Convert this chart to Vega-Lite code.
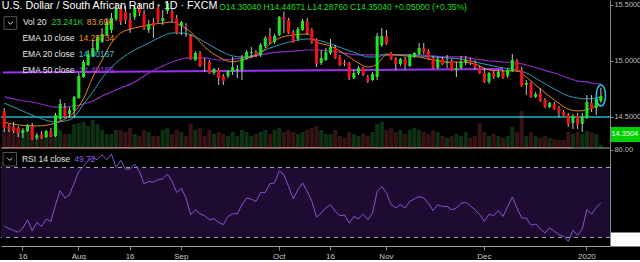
{
"$schema": "https://vega.github.io/schema/vega-lite/v6.json",
"background": "#000000",
"padding": 0,
"spacing": 0,
"bounds": "flush",
"config": {"view": {"stroke": null}, "font": "Liberation Sans", "axis": {"grid": false}},
"resolve": {"scale": {"x": "shared"}},
"datasets": {
"bars": [
{"d":"2019-07-10","o":14.554,"h":14.580,"l":14.366,"c":14.402,"v":140,"rsi":36.5},
{"d":"2019-07-11","o":14.420,"h":14.438,"l":14.366,"c":14.393,"v":147,"rsi":35},
{"d":"2019-07-12","o":14.411,"h":14.455,"l":14.357,"c":14.375,"v":171,"rsi":34},
{"d":"2019-07-15","o":14.402,"h":14.420,"l":14.321,"c":14.357,"v":155,"rsi":33},
{"d":"2019-07-16","o":14.357,"h":14.402,"l":14.313,"c":14.384,"v":116,"rsi":35.4},
{"d":"2019-07-17","o":14.375,"h":14.438,"l":14.366,"c":14.429,"v":132,"rsi":40},
{"d":"2019-07-18","o":14.420,"h":14.446,"l":14.295,"c":14.304,"v":171,"rsi":33.8},
{"d":"2019-07-19","o":14.313,"h":14.357,"l":14.295,"c":14.339,"v":93,"rsi":38.6},
{"d":"2019-07-22","o":14.348,"h":14.375,"l":14.304,"c":14.313,"v":109,"rsi":36.3},
{"d":"2019-07-23","o":14.321,"h":14.384,"l":14.313,"c":14.375,"v":124,"rsi":40.5},
{"d":"2019-07-24","o":14.375,"h":14.402,"l":14.321,"c":14.330,"v":101,"rsi":39.1},
{"d":"2019-07-25","o":14.330,"h":14.536,"l":14.321,"c":14.518,"v":155,"rsi":48.7},
{"d":"2019-07-26","o":14.482,"h":14.661,"l":14.464,"c":14.616,"v":140,"rsi":56.7},
{"d":"2019-07-29","o":14.580,"h":14.625,"l":14.491,"c":14.500,"v":109,"rsi":52.5},
{"d":"2019-07-30","o":14.527,"h":14.589,"l":14.491,"c":14.563,"v":109,"rsi":54.4},
{"d":"2019-07-31","o":14.563,"h":14.688,"l":14.491,"c":14.679,"v":186,"rsi":61.1},
{"d":"2019-08-01","o":14.670,"h":14.893,"l":14.661,"c":14.866,"v":194,"rsi":67.7},
{"d":"2019-08-02","o":14.857,"h":15.009,"l":14.848,"c":14.991,"v":202,"rsi":70.6},
{"d":"2019-08-05","o":14.964,"h":15.098,"l":14.955,"c":15.063,"v":171,"rsi":74},
{"d":"2019-08-06","o":15.045,"h":15.188,"l":15.036,"c":15.116,"v":217,"rsi":75.4},
{"d":"2019-08-07","o":15.098,"h":15.232,"l":15.080,"c":15.214,"v":186,"rsi":74.4},
{"d":"2019-08-08","o":15.170,"h":15.295,"l":15.161,"c":15.241,"v":140,"rsi":77.3},
{"d":"2019-08-09","o":15.232,"h":15.384,"l":15.223,"c":15.348,"v":109,"rsi":74.4},
{"d":"2019-08-12","o":15.277,"h":15.429,"l":15.250,"c":15.384,"v":109,"rsi":77.7},
{"d":"2019-08-13","o":15.375,"h":15.518,"l":15.357,"c":15.464,"v":140,"rsi":70},
{"d":"2019-08-14","o":15.464,"h":15.500,"l":15.321,"c":15.348,"v":140,"rsi":74},
{"d":"2019-08-15","o":15.438,"h":15.491,"l":15.330,"c":15.366,"v":124,"rsi":69.1},
{"d":"2019-08-16","o":15.366,"h":15.429,"l":15.250,"c":15.295,"v":155,"rsi":69.1},
{"d":"2019-08-19","o":15.393,"h":15.500,"l":15.366,"c":15.473,"v":109,"rsi":71.9},
{"d":"2019-08-20","o":15.482,"h":15.509,"l":15.402,"c":15.429,"v":93,"rsi":67.7},
{"d":"2019-08-21","o":15.420,"h":15.455,"l":15.277,"c":15.295,"v":140,"rsi":60.7},
{"d":"2019-08-22","o":15.277,"h":15.366,"l":15.250,"c":15.330,"v":124,"rsi":62},
{"d":"2019-08-23","o":15.348,"h":15.384,"l":15.205,"c":15.313,"v":93,"rsi":61.6},
{"d":"2019-08-26","o":15.473,"h":15.509,"l":15.339,"c":15.357,"v":93,"rsi":63},
{"d":"2019-08-27","o":15.357,"h":15.455,"l":15.321,"c":15.384,"v":140,"rsi":63.5},
{"d":"2019-08-28","o":15.446,"h":15.536,"l":15.420,"c":15.518,"v":155,"rsi":66.2},
{"d":"2019-08-29","o":15.446,"h":15.473,"l":15.348,"c":15.375,"v":109,"rsi":62},
{"d":"2019-08-30","o":15.384,"h":15.411,"l":15.241,"c":15.250,"v":140,"rsi":55.7},
{"d":"2019-09-02","o":15.313,"h":15.357,"l":15.232,"c":15.348,"v":124,"rsi":58.2},
{"d":"2019-09-03","o":15.321,"h":15.339,"l":15.214,"c":15.313,"v":93,"rsi":52.5},
{"d":"2019-09-04","o":15.223,"h":15.241,"l":15.009,"c":15.018,"v":186,"rsi":43},
{"d":"2019-09-05","o":15.009,"h":15.089,"l":15.000,"c":15.071,"v":140,"rsi":45.8},
{"d":"2019-09-06","o":15.071,"h":15.089,"l":14.946,"c":14.955,"v":155,"rsi":43.5},
{"d":"2019-09-09","o":14.991,"h":15.027,"l":14.902,"c":14.982,"v":93,"rsi":42.4},
{"d":"2019-09-10","o":14.991,"h":15.009,"l":14.884,"c":14.893,"v":140,"rsi":40.1},
{"d":"2019-09-11","o":14.893,"h":14.938,"l":14.875,"c":14.929,"v":109,"rsi":40.7},
{"d":"2019-09-12","o":14.920,"h":14.938,"l":14.786,"c":14.848,"v":124,"rsi":38.6},
{"d":"2019-09-13","o":14.866,"h":14.884,"l":14.786,"c":14.821,"v":109,"rsi":37.3},
{"d":"2019-09-16","o":14.866,"h":14.920,"l":14.848,"c":14.911,"v":93,"rsi":42},
{"d":"2019-09-17","o":14.902,"h":15.036,"l":14.875,"c":14.946,"v":124,"rsi":43.5},
{"d":"2019-09-18","o":14.920,"h":14.964,"l":14.848,"c":14.929,"v":93,"rsi":43.5},
{"d":"2019-09-19","o":14.920,"h":15.054,"l":14.830,"c":15.027,"v":140,"rsi":48.7},
{"d":"2019-09-20","o":15.027,"h":15.098,"l":15.009,"c":15.080,"v":124,"rsi":52.5},
{"d":"2019-09-23","o":15.071,"h":15.125,"l":15.027,"c":15.080,"v":93,"rsi":51.9},
{"d":"2019-09-24","o":15.080,"h":15.098,"l":15.036,"c":15.054,"v":109,"rsi":50.6},
{"d":"2019-09-25","o":15.054,"h":15.161,"l":15.036,"c":15.143,"v":124,"rsi":55.7},
{"d":"2019-09-26","o":15.134,"h":15.223,"l":15.116,"c":15.205,"v":140,"rsi":55.7},
{"d":"2019-09-27","o":15.223,"h":15.295,"l":15.152,"c":15.170,"v":109,"rsi":60.7},
{"d":"2019-09-30","o":15.170,"h":15.241,"l":15.152,"c":15.223,"v":140,"rsi":61.1},
{"d":"2019-10-01","o":15.232,"h":15.402,"l":15.223,"c":15.393,"v":155,"rsi":68.1},
{"d":"2019-10-02","o":15.393,"h":15.438,"l":15.250,"c":15.366,"v":124,"rsi":65.8},
{"d":"2019-10-03","o":15.366,"h":15.384,"l":15.241,"c":15.250,"v":140,"rsi":59.1},
{"d":"2019-10-04","o":15.259,"h":15.277,"l":15.161,"c":15.170,"v":124,"rsi":52.1},
{"d":"2019-10-07","o":15.196,"h":15.304,"l":15.179,"c":15.286,"v":109,"rsi":57.3},
{"d":"2019-10-08","o":15.277,"h":15.375,"l":15.268,"c":15.357,"v":124,"rsi":61.1},
{"d":"2019-10-09","o":15.357,"h":15.384,"l":15.232,"c":15.250,"v":140,"rsi":56.3},
{"d":"2019-10-10","o":15.277,"h":15.295,"l":15.152,"c":15.170,"v":155,"rsi":50.6},
{"d":"2019-10-11","o":15.196,"h":15.205,"l":14.946,"c":14.973,"v":171,"rsi":41.6},
{"d":"2019-10-14","o":14.982,"h":15.098,"l":14.964,"c":15.027,"v":140,"rsi":44},
{"d":"2019-10-15","o":15.009,"h":15.116,"l":15.000,"c":15.080,"v":109,"rsi":47},
{"d":"2019-10-16","o":15.071,"h":15.196,"l":15.054,"c":15.125,"v":109,"rsi":48.7},
{"d":"2019-10-17","o":15.116,"h":15.143,"l":15.018,"c":15.027,"v":140,"rsi":45},
{"d":"2019-10-18","o":15.036,"h":15.054,"l":14.955,"c":14.964,"v":93,"rsi":42.4},
{"d":"2019-10-21","o":14.982,"h":15.009,"l":14.955,"c":14.973,"v":78,"rsi":42.8},
{"d":"2019-10-22","o":14.982,"h":14.991,"l":14.830,"c":14.848,"v":124,"rsi":38.2},
{"d":"2019-10-23","o":14.848,"h":14.920,"l":14.839,"c":14.893,"v":109,"rsi":42},
{"d":"2019-10-24","o":14.893,"h":14.955,"l":14.875,"c":14.938,"v":93,"rsi":40.5},
{"d":"2019-10-25","o":14.938,"h":14.946,"l":14.866,"c":14.875,"v":109,"rsi":43.3},
{"d":"2019-10-28","o":14.857,"h":14.875,"l":14.804,"c":14.821,"v":93,"rsi":40.1},
{"d":"2019-10-29","o":14.830,"h":14.902,"l":14.821,"c":14.884,"v":124,"rsi":43.9},
{"d":"2019-10-30","o":14.857,"h":15.250,"l":14.830,"c":15.223,"v":186,"rsi":56.3},
{"d":"2019-10-31","o":15.143,"h":15.295,"l":15.125,"c":15.223,"v":202,"rsi":59.1},
{"d":"2019-11-01","o":15.223,"h":15.277,"l":15.143,"c":15.152,"v":140,"rsi":55.4},
{"d":"2019-11-04","o":15.071,"h":15.080,"l":15.009,"c":15.018,"v":155,"rsi":48.7},
{"d":"2019-11-05","o":15.018,"h":15.036,"l":14.920,"c":14.973,"v":124,"rsi":46.8},
{"d":"2019-11-06","o":14.973,"h":15.027,"l":14.955,"c":15.018,"v":140,"rsi":48.7},
{"d":"2019-11-07","o":15.018,"h":15.036,"l":14.920,"c":14.964,"v":109,"rsi":46.8},
{"d":"2019-11-08","o":14.955,"h":15.063,"l":14.946,"c":15.054,"v":140,"rsi":50.6},
{"d":"2019-11-11","o":15.036,"h":15.080,"l":15.027,"c":15.071,"v":155,"rsi":52},
{"d":"2019-11-12","o":15.063,"h":15.161,"l":15.054,"c":15.116,"v":140,"rsi":53.4},
{"d":"2019-11-13","o":15.116,"h":15.161,"l":15.063,"c":15.080,"v":124,"rsi":52.5},
{"d":"2019-11-14","o":15.089,"h":15.107,"l":15.009,"c":15.018,"v":109,"rsi":49.6},
{"d":"2019-11-15","o":15.027,"h":15.045,"l":14.929,"c":14.938,"v":140,"rsi":45.3},
{"d":"2019-11-18","o":14.938,"h":15.036,"l":14.929,"c":15.018,"v":124,"rsi":48.7},
{"d":"2019-11-19","o":15.018,"h":15.036,"l":14.964,"c":14.973,"v":93,"rsi":47.7},
{"d":"2019-11-20","o":14.982,"h":15.054,"l":14.938,"c":14.991,"v":78,"rsi":47.7},
{"d":"2019-11-21","o":15.000,"h":15.018,"l":14.911,"c":14.920,"v":93,"rsi":45.8},
{"d":"2019-11-22","o":14.920,"h":14.991,"l":14.857,"c":14.938,"v":109,"rsi":46.8},
{"d":"2019-11-25","o":14.938,"h":15.045,"l":14.929,"c":14.991,"v":93,"rsi":49.6},
{"d":"2019-11-26","o":14.991,"h":15.045,"l":14.964,"c":15.009,"v":124,"rsi":50},
{"d":"2019-11-27","o":15.009,"h":15.027,"l":14.964,"c":14.982,"v":78,"rsi":48.1},
{"d":"2019-11-28","o":14.982,"h":15.009,"l":14.920,"c":14.946,"v":93,"rsi":45.8},
{"d":"2019-11-29","o":14.938,"h":14.955,"l":14.884,"c":14.893,"v":194,"rsi":43},
{"d":"2019-12-02","o":14.893,"h":14.938,"l":14.804,"c":14.813,"v":124,"rsi":39.1},
{"d":"2019-12-03","o":14.813,"h":14.902,"l":14.795,"c":14.893,"v":93,"rsi":43.3},
{"d":"2019-12-04","o":14.893,"h":14.911,"l":14.839,"c":14.857,"v":109,"rsi":42.4},
{"d":"2019-12-05","o":14.857,"h":14.920,"l":14.848,"c":14.902,"v":93,"rsi":45.3},
{"d":"2019-12-06","o":14.902,"h":14.920,"l":14.839,"c":14.848,"v":78,"rsi":42},
{"d":"2019-12-09","o":14.866,"h":14.938,"l":14.848,"c":14.920,"v":93,"rsi":47.7},
{"d":"2019-12-10","o":14.911,"h":15.063,"l":14.902,"c":15.009,"v":163,"rsi":53.1},
{"d":"2019-12-11","o":15.000,"h":15.018,"l":14.902,"c":14.911,"v":124,"rsi":46.8},
{"d":"2019-12-12","o":14.920,"h":14.946,"l":14.768,"c":14.777,"v":287,"rsi":41.1},
{"d":"2019-12-13","o":14.786,"h":14.830,"l":14.696,"c":14.804,"v":93,"rsi":41.1},
{"d":"2019-12-16","o":14.804,"h":14.813,"l":14.670,"c":14.679,"v":124,"rsi":36.9},
{"d":"2019-12-17","o":14.679,"h":14.723,"l":14.670,"c":14.705,"v":93,"rsi":37.7},
{"d":"2019-12-18","o":14.714,"h":14.759,"l":14.634,"c":14.643,"v":78,"rsi":34.8},
{"d":"2019-12-19","o":14.652,"h":14.670,"l":14.580,"c":14.589,"v":93,"rsi":32.5},
{"d":"2019-12-20","o":14.589,"h":14.634,"l":14.580,"c":14.625,"v":78,"rsi":35.4},
{"d":"2019-12-23","o":14.616,"h":14.634,"l":14.563,"c":14.571,"v":70,"rsi":33.6},
{"d":"2019-12-24","o":14.580,"h":14.598,"l":14.500,"c":14.536,"v":62,"rsi":31.5},
{"d":"2019-12-25","o":14.545,"h":14.563,"l":14.509,"c":14.518,"v":62,"rsi":30.6},
{"d":"2019-12-26","o":14.518,"h":14.536,"l":14.411,"c":14.438,"v":124,"rsi":27.7},
{"d":"2019-12-27","o":14.446,"h":14.527,"l":14.393,"c":14.509,"v":109,"rsi":34.1},
{"d":"2019-12-30","o":14.509,"h":14.536,"l":14.393,"c":14.429,"v":124,"rsi":31.3},
{"d":"2019-12-31","o":14.438,"h":14.536,"l":14.366,"c":14.500,"v":109,"rsi":34.8},
{"d":"2020-01-01","o":14.491,"h":14.696,"l":14.482,"c":14.634,"v":132,"rsi":45.8},
{"d":"2020-01-02","o":14.625,"h":14.696,"l":14.545,"c":14.571,"v":124,"rsi":43.3},
{"d":"2020-01-03","o":14.580,"h":14.670,"l":14.518,"c":14.661,"v":109,"rsi":47.2},
{"d":"2020-01-06","o":14.643,"h":14.759,"l":14.625,"c":14.688,"v":23.241,"rsi":49.72}
],
"ema": [
{"d":"2019-07-10","e10":14.455,"e20":14.625,"e50":14.679},
{"d":"2019-07-15","e10":14.429,"e20":14.571,"e50":14.652},
{"d":"2019-07-19","e10":14.420,"e20":14.500,"e50":14.625},
{"d":"2019-07-25","e10":14.446,"e20":14.455,"e50":14.589},
{"d":"2019-07-29","e10":14.482,"e20":14.464,"e50":14.589},
{"d":"2019-07-31","e10":14.545,"e20":14.500,"e50":14.598},
{"d":"2019-08-02","e10":14.661,"e20":14.616,"e50":14.616},
{"d":"2019-08-06","e10":14.857,"e20":14.723,"e50":14.643},
{"d":"2019-08-08","e10":15.009,"e20":14.848,"e50":14.688},
{"d":"2019-08-12","e10":15.161,"e20":14.946,"e50":14.723},
{"d":"2019-08-14","e10":15.250,"e20":15.018,"e50":14.759},
{"d":"2019-08-19","e10":15.295,"e20":15.098,"e50":14.813},
{"d":"2019-08-22","e10":15.321,"e20":15.161,"e50":14.893},
{"d":"2019-08-27","e10":15.339,"e20":15.223,"e50":14.955},
{"d":"2019-08-29","e10":15.348,"e20":15.250,"e50":14.991},
{"d":"2019-09-02","e10":15.313,"e20":15.250,"e50":15.018},
{"d":"2019-09-04","e10":15.259,"e20":15.232,"e50":15.027},
{"d":"2019-09-09","e10":15.125,"e20":15.170,"e50":15.027},
{"d":"2019-09-12","e10":15.036,"e20":15.098,"e50":15.009},
{"d":"2019-09-17","e10":14.991,"e20":15.045,"e50":15.018},
{"d":"2019-09-19","e10":15.009,"e20":15.036,"e50":15.027},
{"d":"2019-09-23","e10":15.036,"e20":15.045,"e50":15.036},
{"d":"2019-09-25","e10":15.071,"e20":15.080,"e50":15.054},
{"d":"2019-09-27","e10":15.152,"e20":15.116,"e50":15.071},
{"d":"2019-10-01","e10":15.205,"e20":15.143,"e50":15.080},
{"d":"2019-10-04","e10":15.232,"e20":15.179,"e50":15.089},
{"d":"2019-10-09","e10":15.241,"e20":15.196,"e50":15.098},
{"d":"2019-10-11","e10":15.170,"e20":15.188,"e50":15.098},
{"d":"2019-10-16","e10":15.134,"e20":15.152,"e50":15.089},
{"d":"2019-10-21","e10":15.063,"e20":15.107,"e50":15.071},
{"d":"2019-10-24","e10":14.982,"e20":15.063,"e50":15.054},
{"d":"2019-10-28","e10":14.946,"e20":15.036,"e50":15.054},
{"d":"2019-10-30","e10":14.973,"e20":15.036,"e50":15.054},
{"d":"2019-11-01","e10":15.054,"e20":15.063,"e50":15.054},
{"d":"2019-11-05","e10":15.054,"e20":15.054,"e50":15.054},
{"d":"2019-11-07","e10":15.045,"e20":15.054,"e50":15.054},
{"d":"2019-11-12","e10":15.036,"e20":15.045,"e50":15.054},
{"d":"2019-11-15","e10":15.009,"e20":15.036,"e50":15.045},
{"d":"2019-11-20","e10":14.991,"e20":15.027,"e50":15.036},
{"d":"2019-11-25","e10":14.991,"e20":15.018,"e50":15.036},
{"d":"2019-11-28","e10":14.973,"e20":14.991,"e50":15.018},
{"d":"2019-12-03","e10":14.920,"e20":14.964,"e50":15.000},
{"d":"2019-12-06","e10":14.911,"e20":14.938,"e50":14.991},
{"d":"2019-12-11","e10":14.911,"e20":14.920,"e50":14.982},
{"d":"2019-12-13","e10":14.857,"e20":14.893,"e50":14.964},
{"d":"2019-12-18","e10":14.750,"e20":14.821,"e50":14.929},
{"d":"2019-12-23","e10":14.652,"e20":14.750,"e50":14.893},
{"d":"2019-12-26","e10":14.571,"e20":14.688,"e50":14.848},
{"d":"2019-12-30","e10":14.554,"e20":14.670,"e50":14.821},
{"d":"2020-01-01","e10":14.563,"e20":14.661,"e50":14.813},
{"d":"2020-01-03","e10":14.598,"e20":14.670,"e50":14.795},
{"d":"2020-01-06","e10":14.607,"e20":14.679,"e50":14.795}
]
},
"vconcat": [
{
"width": 609,
"height": 148,
"layer": [
{
"data": {"name": "bars"},
"mark": {"type": "bar", "width": {"band": 1.35}},
"encoding": {
"x": {"field": "d", "type": "ordinal", "scale": {"type": "band", "paddingInner": 0.35, "paddingOuter": 1.585, "align": 0.185, "round": false}, "axis": null},
"y": {"field": "v", "type": "quantitative", "scale": {"domain": [0, 1147], "nice": false, "zero": true}, "axis": null},
"color": {"condition": {"test": "datum.c >= datum.o", "value": "#0d3112"}, "value": "#361315"}
}
},
{
"layer": [
{
"data": {"values": [{}]},
"mark": {"type": "rule", "color": "#26b8c8", "strokeWidth": 1.5},
"encoding": {"y": {"datum": 14.5, "scale": {"domain": [14.2232, 15.5446], "nice": false, "zero": false}}}
},
{
"data": {"values": [{}]},
"mark": {"type": "rule", "color": "#9b2ff0", "strokeWidth": 2},
"encoding": {
"x": {"datum": "2019-07-10", "type": "ordinal", "bandPosition": 0, "axis": null},
"x2": {"datum": "2019-12-06"},
"y": {"datum": 14.898},
"y2": {"datum": 14.929}
}
},
{
"data": {"values": [{}]},
"mark": {"type": "rule", "color": "#d84545", "strokeWidth": 1},
"encoding": {
"x": {"datum": "2019-07-10", "type": "ordinal", "bandPosition": 0, "axis": null},
"x2": {"datum": "2019-12-27"},
"y": {"datum": 14.2265}
}
},
{
"data": {"name": "ema"},
"mark": {"type": "line", "color": "#8e2bbf", "strokeWidth": 1.2, "interpolate": "monotone"},
"encoding": {
"x": {"field": "d", "type": "ordinal", "scale": {"type": "band", "paddingInner": 0.35, "paddingOuter": 1.585, "align": 0.185, "round": false}, "axis": null},
"y": {"field": "e50", "type": "quantitative", "scale": {"domain": [14.2232, 15.5446], "nice": false, "zero": false}, "title": null}
}
},
{
"data": {"name": "ema"},
"mark": {"type": "line", "color": "#2a9fb0", "strokeWidth": 1, "interpolate": "monotone"},
"encoding": {
"x": {"field": "d", "type": "ordinal", "scale": {"type": "band", "paddingInner": 0.35, "paddingOuter": 1.585, "align": 0.185, "round": false}, "axis": null},
"y": {"field": "e20", "type": "quantitative", "scale": {"domain": [14.2232, 15.5446], "nice": false, "zero": false}, "title": null}
}
},
{
"data": {"name": "ema"},
"mark": {"type": "line", "color": "#e8821e", "strokeWidth": 1, "interpolate": "monotone"},
"encoding": {
"x": {"field": "d", "type": "ordinal", "scale": {"type": "band", "paddingInner": 0.35, "paddingOuter": 1.585, "align": 0.185, "round": false}, "axis": null},
"y": {"field": "e10", "type": "quantitative", "scale": {"domain": [14.2232, 15.5446], "nice": false, "zero": false}, "title": null}
}
},
{
"data": {"name": "bars"},
"mark": {"type": "rule", "color": "#c4c4c4", "strokeWidth": 1},
"encoding": {
"x": {"field": "d", "type": "ordinal", "scale": {"type": "band", "paddingInner": 0.35, "paddingOuter": 1.585, "align": 0.185, "round": false}, "axis": null},
"y": {"field": "l", "type": "quantitative", "scale": {"domain": [14.2232, 15.5446], "nice": false, "zero": false}, "title": null},
"y2": {"field": "h"}
}
},
{
"data": {"name": "bars"},
"mark": {"type": "bar"},
"encoding": {
"x": {"field": "d", "type": "ordinal", "scale": {"type": "band", "paddingInner": 0.35, "paddingOuter": 1.585, "align": 0.185, "round": false}, "axis": null},
"y": {"field": "o", "type": "quantitative", "scale": {"domain": [14.2232, 15.5446], "nice": false, "zero": false},
"axis": {
"orient": "right", "title": null,
"values": [14.3504, 14.5, 15, 15.5],
"format": ".4f",
"domain": true, "domainColor": "#8a8a8a", "domainWidth": 1,
"ticks": true,
"tickColor": {"condition": {"test": "datum.value == 14.3504", "value": "#00d000"}, "value": "#8a8a8a"},
"tickSize": {"condition": {"test": "datum.value == 14.3504", "value": 31}, "value": 3},
"tickWidth": {"condition": {"test": "datum.value == 14.3504", "value": 15}, "value": 1},
"labelPadding": {"condition": {"test": "datum.value == 14.3504", "value": -30}, "value": 1},
"labelColor": {"condition": {"test": "datum.value == 14.3504", "value": "#ffffff"}, "value": "#bdbdbd"},
"labelFontSize": 7.4,
"labelFlush": false,
"labelOverlap": false,
"grid": false
}},
"y2": {"field": "c"},
"color": {"condition": {"test": "datum.c >= datum.o", "value": "#1ee61e"}, "value": "#f21414"}
}
},
{
"data": {"values": [{}]},
"mark": {"type": "point", "shape": "M0,-1A0.44,1,0,1,1,0,1A0.44,1,0,1,1,0,-1Z", "size": 441, "filled": false, "stroke": "#29c4dc", "strokeWidth": 1.5, "opacity": 1},
"encoding": {
"x": {"datum": "2020-01-06", "type": "ordinal", "axis": null},
"y": {"datum": 14.692}
}
},
{
"data": {"values": [{}]},
"mark": {"type": "text", "text": "U.S. Dollar / South African Rand · 1D · FXCM", "align": "left", "baseline": "alphabetic", "fontSize": 10.7, "color": "#ffffff", "dx": -2.5},
"encoding": {"x": {"datum": "2019-07-10", "type": "ordinal", "axis": null}, "y": {"datum": 15.4616}}
},
{
"data": {"values": [{}]},
"mark": {"type": "text", "text": "O14.30040 H14.44671 L14.28760 C14.35040 +0.05000 (+0.35%)", "align": "left", "baseline": "alphabetic", "fontSize": 8.5, "color": "#22dd22", "dx": 0.5},
"encoding": {"x": {"datum": "2019-09-12", "type": "ordinal", "axis": null}, "y": {"datum": 15.455}}
},
{
"data": {"values": [{}]},
"mark": {"type": "point", "shape": "square", "size": 161, "filled": false, "stroke": "#555555", "strokeWidth": 1, "opacity": 1, "xOffset": 1.5},
"encoding": {"x": {"datum": "2019-07-11", "type": "ordinal", "axis": null}, "y": {"datum": 15.339}}
},
{
"data": {"values": [{}]},
"mark": {"type": "point", "shape": "M-0.4,-0.2L0,0.2L0.4,-0.2", "size": 161, "filled": false, "stroke": "#d8d8d8", "strokeWidth": 1, "opacity": 1, "xOffset": 1.5},
"encoding": {"x": {"datum": "2019-07-11", "type": "ordinal", "axis": null}, "y": {"datum": 15.339}}
},
{
"data": {"values": [{}]},
"mark": {"type": "text", "text": "Vol 20", "align": "left", "baseline": "alphabetic", "fontSize": 8.5, "color": "#e6e6e6"},
"encoding": {"x": {"datum": "2019-07-16", "type": "ordinal", "axis": null}, "y": {"datum": 15.321}}
},
{
"data": {"values": [{}]},
"mark": {"type": "text", "text": "23.241K", "align": "left", "baseline": "alphabetic", "fontSize": 8.5, "color": "#2ecc40", "dx": 0.6},
"encoding": {"x": {"datum": "2019-07-24", "type": "ordinal", "axis": null}, "y": {"datum": 15.321}}
},
{
"data": {"values": [{}]},
"mark": {"type": "text", "text": "83.69K", "align": "left", "baseline": "alphabetic", "fontSize": 8.5, "color": "#e0a030", "dx": -1.4},
"encoding": {"x": {"datum": "2019-08-05", "type": "ordinal", "axis": null}, "y": {"datum": 15.321}}
},
{
"data": {"values": [{}]},
"mark": {"type": "text", "text": "EMA 10 close", "align": "left", "baseline": "alphabetic", "fontSize": 8.5, "color": "#e6e6e6", "dx": -0.5},
"encoding": {"x": {"datum": "2019-07-16", "type": "ordinal", "axis": null}, "y": {"datum": 15.181}}
},
{
"data": {"values": [{}]},
"mark": {"type": "text", "text": "14.23734", "align": "left", "baseline": "alphabetic", "fontSize": 8.5, "color": "#f08c1a"},
"encoding": {"x": {"datum": "2019-08-01", "type": "ordinal", "axis": null}, "y": {"datum": 15.181}}
},
{
"data": {"values": [{}]},
"mark": {"type": "text", "text": "EMA 20 close", "align": "left", "baseline": "alphabetic", "fontSize": 8.5, "color": "#e6e6e6", "dx": -0.5},
"encoding": {"x": {"datum": "2019-07-16", "type": "ordinal", "axis": null}, "y": {"datum": 15.038}}
},
{
"data": {"values": [{}]},
"mark": {"type": "text", "text": "14.30167", "align": "left", "baseline": "alphabetic", "fontSize": 8.5, "color": "#3cc0d0"},
"encoding": {"x": {"datum": "2019-08-01", "type": "ordinal", "axis": null}, "y": {"datum": 15.038}}
},
{
"data": {"values": [{}]},
"mark": {"type": "text", "text": "EMA 50 close", "align": "left", "baseline": "alphabetic", "fontSize": 8.5, "color": "#e6e6e6", "dx": -0.5},
"encoding": {"x": {"datum": "2019-07-16", "type": "ordinal", "axis": null}, "y": {"datum": 14.896}}
},
{
"data": {"values": [{}]},
"mark": {"type": "text", "text": "14.49165", "align": "left", "baseline": "alphabetic", "fontSize": 8.5, "color": "#a53ae6"},
"encoding": {"x": {"datum": "2019-08-01", "type": "ordinal", "axis": null}, "y": {"datum": 14.896}}
}
]
}
],
"resolve": {"scale": {"y": "independent"}}
},
{
"width": 609,
"height": 98,
"layer": [
{
"data": {"values": [{}]},
"mark": {"type": "rect", "color": "#1d0b31"},
"encoding": {"y": {"datum": 70, "scale": {"domain": [25.1, 81.1], "nice": false, "zero": false}}, "y2": {"datum": 30}}
},
{
"data": {"values": [{}]},
"mark": {"type": "rule", "color": "#aaa6ba", "strokeDash": [4, 4], "strokeWidth": 1},
"encoding": {"y": {"datum": 70}}
},
{
"data": {"values": [{}]},
"mark": {"type": "rule", "color": "#aaa6ba", "strokeDash": [4, 4], "strokeWidth": 1},
"encoding": {"y": {"datum": 30}}
},
{
"data": {"name": "bars"},
"mark": {"type": "line", "color": "#8157d0", "strokeWidth": 1},
"encoding": {
"x": {"field": "d", "type": "ordinal", "scale": {"type": "band", "paddingInner": 0.35, "paddingOuter": 1.585, "align": 0.185, "round": false},
"axis": {
"title": null, "orient": "bottom",
"values": ["2019-07-16", "2019-08-01", "2019-08-16", "2019-09-02", "2019-10-01", "2019-10-16", "2019-11-01", "2019-12-02", "2020-01-01"],
"labelExpr": "datum.value == '2019-08-01' ? 'Aug' : datum.value == '2019-09-02' ? 'Sep' : datum.value == '2019-10-01' ? 'Oct' : datum.value == '2019-11-01' ? 'Nov' : datum.value == '2019-12-02' ? 'Dec' : datum.value == '2020-01-01' ? '2020' : '16'",
"domain": true, "domainColor": "#a0a0a0",
"ticks": true, "tickSize": 4, "tickColor": "#8a8a8a",
"labelColor": "#c8c8c8", "labelFontSize": 8, "labelPadding": 2, "labelAngle": 0,
"labelOverlap": false, "labelFlush": false, "grid": false
}},
"y": {"field": "rsi", "type": "quantitative", "scale": {"domain": [25.1, 81.1], "nice": false, "zero": false},
"axis": {
"orient": "right", "title": null,
"values": [29.2, 40, 60, 80],
"labelExpr": "datum.value == 29.2 ? '' : format(datum.value, '.2f')",
"domain": true, "domainColor": "#8a8a8a",
"ticks": true,
"tickColor": {"condition": {"test": "datum.value == 29.2", "value": "#ffffff"}, "value": "#8a8a8a"},
"tickSize": {"condition": {"test": "datum.value == 29.2", "value": 31}, "value": 3},
"tickWidth": {"condition": {"test": "datum.value == 29.2", "value": 14}, "value": 1},
"labelPadding": 1,
"labelColor": "#bdbdbd",
"labelFontSize": 7.4,
"labelFlush": false,
"labelOverlap": false,
"grid": false
}}
}
},
{
"data": {"values": [{}]},
"mark": {"type": "rule", "color": "#a0a0a0", "strokeWidth": 1},
"encoding": {"y": {"datum": 81.1}}
},
{
"data": {"values": [{}]},
"mark": {"type": "point", "shape": "square", "size": 182, "filled": false, "stroke": "#555555", "strokeWidth": 1, "opacity": 1, "xOffset": 0.9},
"encoding": {"x": {"datum": "2019-07-11", "type": "ordinal"}, "y": {"datum": 74.7}}
},
{
"data": {"values": [{}]},
"mark": {"type": "point", "shape": "M-0.4,-0.2L0,0.2L0.4,-0.2", "size": 169, "filled": false, "stroke": "#d8d8d8", "strokeWidth": 1, "opacity": 1, "xOffset": 0.9},
"encoding": {"x": {"datum": "2019-07-11", "type": "ordinal"}, "y": {"datum": 74.7}}
},
{
"data": {"values": [{}]},
"mark": {"type": "text", "text": "RSI 14 close", "align": "left", "baseline": "alphabetic", "fontSize": 8.5, "color": "#e6e6e6", "dx": -1},
"encoding": {"x": {"datum": "2019-07-16", "type": "ordinal"}, "y": {"datum": 73.26}}
},
{
"data": {"values": [{}]},
"mark": {"type": "text", "text": "49.72", "align": "left", "baseline": "alphabetic", "fontSize": 8.5, "color": "#8a5ce0"},
"encoding": {"x": {"datum": "2019-07-31", "type": "ordinal"}, "y": {"datum": 73.26}}
}
]
}
]
}
